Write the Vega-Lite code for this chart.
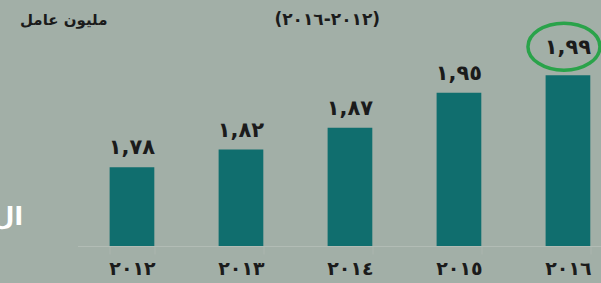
{
  "$schema": "https://vega.github.io/schema/vega-lite/v6.json",
  "width": 523.5,
  "height": 230,
  "autosize": "none",
  "padding": {"left": 77.5, "top": 16, "right": 0, "bottom": 37},
  "background": "#a2afa7",
  "config": {"view": {"stroke": null}},
  "title": {
    "text": "(٢٠١٢-٢٠١٦)",
    "anchor": "middle",
    "baseline": "middle",
    "offset": 0,
    "dx": -12,
    "dy": 25,
    "font": "DejaVu Sans",
    "fontSize": 17,
    "fontWeight": "bold",
    "color": "#1b1b1b"
  },
  "data": {
    "values": [
      {"yr": 2012, "year": "٢٠١٢", "value": 1.78, "label": "١,٧٨"},
      {"yr": 2013, "year": "٢٠١٣", "value": 1.82, "label": "١,٨٢"},
      {"yr": 2014, "year": "٢٠١٤", "value": 1.87, "label": "١,٨٧"},
      {"yr": 2015, "year": "٢٠١٥", "value": 1.95, "label": "١,٩٥"},
      {"yr": 2016, "year": "٢٠١٦", "value": 1.99, "label": "١,٩٩"}
    ]
  },
  "encoding": {
    "x": {
      "field": "year",
      "type": "nominal",
      "sort": null,
      "scale": {"paddingInner": 0.59, "paddingOuter": 0.1965, "align": 0.75},
      "axis": {
        "title": "ال",
        "titleX": -55,
        "titleY": -30,
        "titleAlign": "right",
        "titleBaseline": "middle",
        "titleAnchor": null,
        "titleColor": "#ffffff",
        "titleFont": "DejaVu Sans",
        "titleFontSize": 25,
        "titleFontWeight": "bold",
        "labelAngle": 0,
        "labelFont": "DejaVu Sans",
        "labelFontSize": 19,
        "labelFontWeight": "bold",
        "labelColor": "#1b1b1b",
        "labelPadding": 5,
        "tickBand": "extent",
        "tickSize": 8,
        "tickColor": "#abb5ae",
        "domainColor": "#b2bcb5",
        "domainWidth": 1
      }
    },
    "y": {
      "field": "value",
      "type": "quantitative",
      "scale": {"domain": [1.6, 2.125], "zero": false, "nice": false},
      "axis": {
        "domain": false,
        "labels": false,
        "ticks": false,
        "grid": false,
        "title": "مليون عامل",
        "titleAngle": 0,
        "titleX": 29.5,
        "titleY": 3,
        "titleAlign": "right",
        "titleBaseline": "middle",
        "titleAnchor": null,
        "titleFont": "DejaVu Sans",
        "titleFontSize": 15,
        "titleFontWeight": "bold",
        "titleColor": "#1b1b1b"
      }
    }
  },
  "layer": [
    {"mark": {"type": "bar", "color": "#106e6e"}, "encoding": {"y2": {"datum": 1.6}}},
    {
      "transform": [{"filter": "datum.yr != 2016"}],
      "mark": {"type": "text", "baseline": "bottom", "dy": -9, "font": "DejaVu Sans", "fontSize": 21, "fontWeight": "bold", "color": "#1b1b1b"},
      "encoding": {"text": {"field": "label"}}
    },
    {
      "transform": [{"filter": "datum.yr == 2016"}],
      "mark": {"type": "text", "baseline": "bottom", "dy": -17, "font": "DejaVu Sans", "fontSize": 21, "fontWeight": "bold", "color": "#1b1b1b"},
      "encoding": {"text": {"field": "label"}}
    },
    {
      "transform": [{"filter": "datum.yr == 2016"}],
      "mark": {
        "type": "point",
        "shape": "M-1,0 A1,0.653 0 1,0 1,0 A1,0.653 0 1,0 -1,0 Z",
        "size": 5184,
        "filled": false,
        "stroke": "#2aa34a",
        "strokeWidth": 3.5,
        "opacity": 1,
        "xOffset": -4,
        "yOffset": -28.5
      }
    }
  ]
}
